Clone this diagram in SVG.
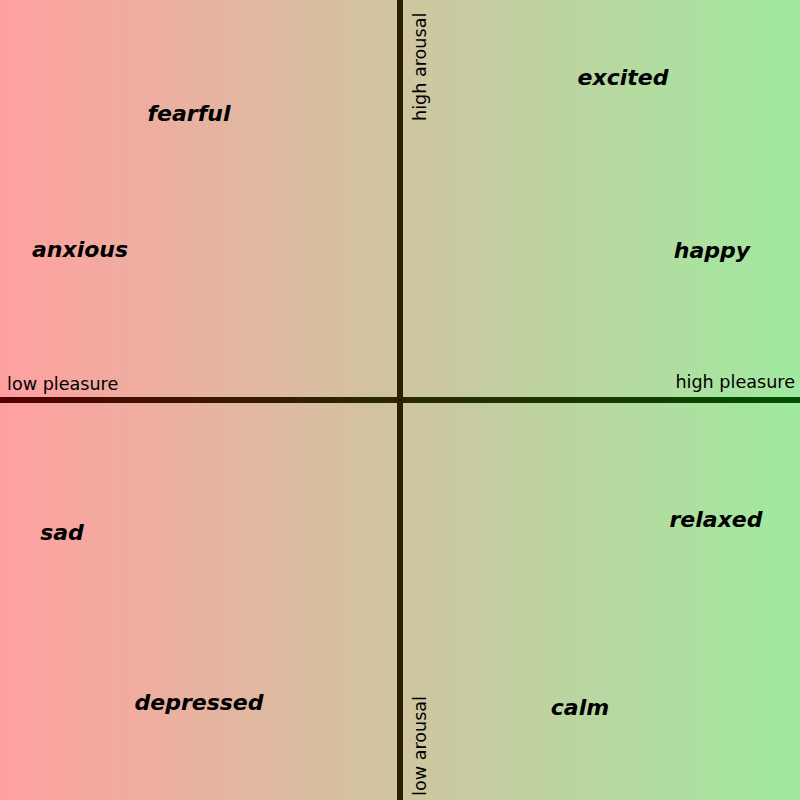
<svg xmlns="http://www.w3.org/2000/svg" width="800" height="800" viewBox="0 0 800 800">
<defs>
<linearGradient id="bg" x1="0" y1="0" x2="1" y2="0">
<stop offset="0" stop-color="#ffa0a0"/>
<stop offset="1" stop-color="#a0eaa0"/>
</linearGradient>
<linearGradient id="hx" x1="0" y1="0" x2="1" y2="0">
<stop offset="0" stop-color="#500000"/>
<stop offset="1" stop-color="#005000"/>
</linearGradient>
<style>
.emo{font-family:"DejaVu Sans",sans-serif;font-size:22px;font-weight:bold;font-style:italic;text-anchor:middle;fill:#000}
.ax{font-family:"DejaVu Sans",sans-serif;font-size:17.6px;fill:#000}
</style>
</defs>
<rect x="0" y="0" width="800" height="800" fill="url(#bg)"/>
<g id="connectors">
<rect x="0" y="397" width="800" height="6" fill="url(#hx)"/>
<rect x="397" y="0" width="6" height="800" fill="#2a2000"/>
</g>
<g id="axis-labels">
<text class="ax" x="7" y="390">low pleasure</text>
<text class="ax" x="795" y="388" text-anchor="end">high pleasure</text>
<text class="ax" transform="translate(426,121) rotate(-90)">high arousal</text>
<text class="ax" transform="translate(426,796) rotate(-90)">low arousal</text>
</g>
<g id="fearful"><text class="emo" x="189" y="121">fearful</text></g>
<g id="excited"><text class="emo" x="623" y="85">excited</text></g>
<g id="anxious"><text class="emo" x="80" y="257">anxious</text></g>
<g id="happy"><text class="emo" x="712" y="258">happy</text></g>
<g id="sad"><text class="emo" x="62" y="540">sad</text></g>
<g id="relaxed"><text class="emo" x="716" y="527">relaxed</text></g>
<g id="depressed"><text class="emo" x="199" y="710">depressed</text></g>
<g id="calm"><text class="emo" x="580" y="715">calm</text></g>
</svg>
